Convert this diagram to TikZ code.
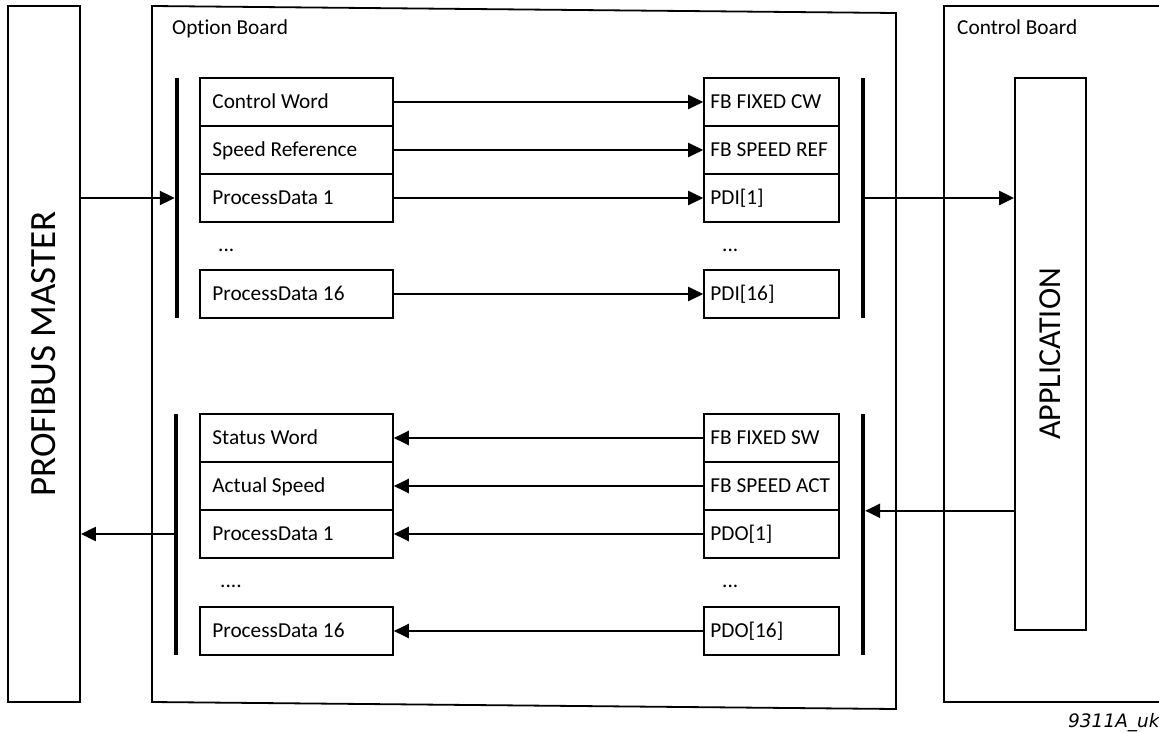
\documentclass[tikz,border=0pt]{standalone}
\usepackage{fontspec}
\setmainfont{Carlito}[Ligatures=NoCommon]
\newfontfamily\tagfont{DejaVu Sans}
\usetikzlibrary{arrows.meta}
\begin{document}
\begin{tikzpicture}[x=1pt,y=-1pt,
  frame/.style={draw, line width=1.8pt},
  lbox/.style={draw, line width=1.6pt, minimum width=193pt, minimum height=48pt, inner sep=0pt},
  rbox/.style={draw, line width=1.6pt, minimum width=135pt, minimum height=48pt, inner sep=0pt},
  btxt/.style={anchor=west, inner sep=0pt, text height=13.8pt, text depth=0pt,
    font=\fontsize{21.3}{24}\selectfont},
  bar/.style={fill=black, draw=none, minimum width=4pt, inner sep=0pt},
  arr/.style={line width=2.2pt, -{Triangle[length=15pt,width=14pt]}},
  txt/.style={font=\fontsize{21.3}{24}\selectfont, inner sep=0pt},
  big/.style={inner sep=0pt, rotate=90},
]
\useasboundingbox (0,0) rectangle (1159,733);

% PROFIBUS master
\node[frame, minimum width=72pt, minimum height=696pt, inner sep=0pt] (pm) at (44,354) {};
\node[big, font=\fontsize{37}{40}\selectfont] (pmtext) at (pm.center) {PROFIBUS MASTER};

% Option board
\coordinate (ob1) at (152,6);
\coordinate (ob2) at (896,13);
\coordinate (ob3) at (896,709);
\coordinate (ob4) at (152,702);
\draw[line width=1.8pt] (ob1) -- (ob2) -- (ob3) -- (ob4) -- cycle;
\node[txt, anchor=base west] (obtext) at (172,35) {Option Board};

% Control board
\coordinate (cb1) at (1162,6);
\coordinate (cb2) at (944,6);
\coordinate (cb3) at (944,702);
\coordinate (cb4) at (1162,702);
\draw[line width=1.8pt] (cb1) -- (cb2) -- (cb3) -- (cb4);
\node[txt, anchor=base west] (cbtext) at (957,35) {Control Board};

% Application
\node[frame, minimum width=71pt, minimum height=552pt, inner sep=0pt] (app) at (1050.5,354) {};
\node[big, font=\fontsize{32}{36}\selectfont] (apptext) at (app.center) {APPLICATION};

% bars
\node[bar, minimum height=240pt] (bl1) at (177,198) {};
\node[bar, minimum height=240pt] (br1) at (863,198) {};
\node[bar, minimum height=241pt] (bl2) at (176,534.5) {};
\node[bar, minimum height=241pt] (br2) at (863,534.5) {};

% top section
\node[lbox] (l1) at (296.5,102) {};
\node[lbox] (l2) at (296.5,150) {};
\node[lbox] (l3) at (296.5,198) {};
\node[lbox] (l4) at (296.5,294) {};
\node[btxt] (l1t) at ([xshift=13pt]l1.west) {Control Word};
\node[btxt] (l2t) at ([xshift=13pt]l2.west) {Speed Reference};
\node[btxt] (l3t) at ([xshift=13pt]l3.west) {ProcessData 1};
\node[btxt] (l4t) at ([xshift=13pt]l4.west) {ProcessData 16};
\node[txt, anchor=base west] (ld1) at (218,251) {...};

\node[rbox] (r1) at (771.5,102) {};
\node[rbox] (r2) at (771.5,150) {};
\node[rbox] (r3) at (771.5,198) {};
\node[rbox] (r4) at (771.5,294) {};
\node[btxt] (r1t) at ([xshift=7pt]r1.west) {FB FIXED CW};
\node[btxt] (r2t) at ([xshift=7pt]r2.west) {FB SPEED REF};
\node[btxt] (r3t) at ([xshift=7pt]r3.west) {PDI[1]};
\node[btxt] (r4t) at ([xshift=7pt]r4.west) {PDI[16]};
\node[txt, anchor=base west] (rd1) at (722,251) {...};

% bottom section
\node[lbox] (m1) at (296.5,438) {};
\node[lbox] (m2) at (296.5,486) {};
\node[lbox] (m3) at (296.5,534) {};
\node[lbox] (m4) at (296.5,631) {};
\node[btxt] (m1t) at ([xshift=13pt]m1.west) {Status Word};
\node[btxt] (m2t) at ([xshift=13pt]m2.west) {Actual Speed};
\node[btxt] (m3t) at ([xshift=13pt]m3.west) {ProcessData 1};
\node[btxt] (m4t) at ([xshift=13pt]m4.west) {ProcessData 16};
\node[txt, anchor=base west] (md1) at (220,587) {....};

\node[rbox] (s1) at (771.5,438) {};
\node[rbox] (s2) at (771.5,486) {};
\node[rbox] (s3) at (771.5,534) {};
\node[rbox] (s4) at (771.5,631) {};
\node[btxt] (s1t) at ([xshift=7pt]s1.west) {FB FIXED SW};
\node[btxt] (s2t) at ([xshift=7pt]s2.west) {FB SPEED ACT};
\node[btxt] (s3t) at ([xshift=7pt]s3.west) {PDO[1]};
\node[btxt] (s4t) at ([xshift=7pt]s4.west) {PDO[16]};
\node[txt, anchor=base west] (sd1) at (722,587) {...};

% arrows top
\draw[arr] (pm.east |- l3.center) -- (bl1.west |- l3.center);
\draw[arr] (l1.east) -- (r1.west);
\draw[arr] (l2.east) -- (r2.west);
\draw[arr] (l3.east) -- (r3.west);
\draw[arr] (l4.east) -- (r4.west);
\draw[arr] (br1.east |- r3.center) -- (app.west |- r3.center);

% arrows bottom
\draw[arr] (s1.west) -- (m1.east);
\draw[arr] (s2.west) -- (m2.east);
\draw[arr] (s3.west) -- (m3.east);
\draw[arr] (s4.west) -- (m4.east);
\draw[arr] (app.west |- s2.south) -- (br2.east |- s2.south);
\draw[arr] (bl2.west |- m3.center) -- (pm.east |- m3.center);

% tag
\node[anchor=base west, inner sep=0pt, font=\tagfont\itshape\fontsize{18.5}{20}\selectfont] (tag) at (1068,727) {9311A\_uk};
\end{tikzpicture}
\end{document}
